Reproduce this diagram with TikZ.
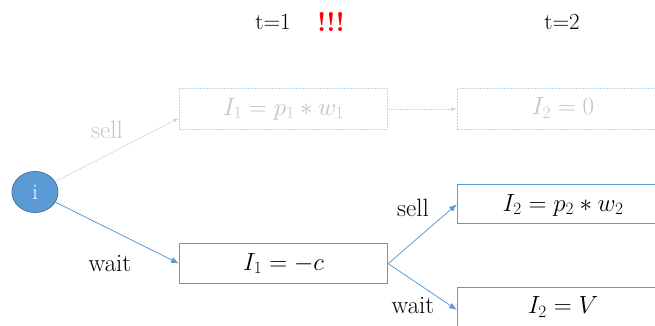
\documentclass[tikz,border=0pt]{standalone}
\usetikzlibrary{arrows.meta,shapes.geometric}
\definecolor{boxblue}{HTML}{5B9BD5}
\definecolor{circedge}{HTML}{41719C}
\definecolor{fadeblue}{HTML}{BDD7EE}
\definecolor{fadetext}{HTML}{C4C4C4}
\tikzset{
  mathtxt/.style={font=\fontsize{24}{28}\selectfont},
  statebox/.style={draw=boxblue, line width=1.2pt, minimum width=208pt, minimum height=40pt, inner sep=0pt, mathtxt},
  fadebox/.style={draw=fadeblue, dash pattern=on 2pt off 1pt, line width=1pt, minimum width=208pt, minimum height=41pt, inner sep=0pt, text=fadetext, mathtxt},
  conn/.style={draw=boxblue, line width=0.8pt, -{Latex[length=8pt,width=6pt]}},
  fadeconn/.style={draw=fadeblue, line width=0.8pt, dash pattern=on 2pt off 1pt, -{Latex[length=6pt,width=4pt]}},
  lbl/.style={font=\fontsize{25}{28}\selectfont},
  fadelbl/.style={font=\fontsize{25}{28}\selectfont, text=fadetext},
}
\begin{document}
\begin{tikzpicture}[x=1pt,y=-1pt]
\useasboundingbox (0,0) rectangle (655,325);
\clip (0,0) rectangle (655,325);
% headers
\node[font=\fontsize{23}{26}\selectfont] (t1) at (273,22) {t=1};
\node[font=\fontsize{27}{30}\selectfont\bfseries, text=red] (excl) at (331,22) {!!!};
\node[font=\fontsize{23}{26}\selectfont] (t2) at (562,22) {t=2};
% root
\node[draw=circedge, fill=boxblue, line width=0.8pt, ellipse, minimum width=46pt, minimum height=41pt, inner sep=0pt, text=white, font=\fontsize{22}{24}\selectfont] (root) at (35,192) {i};
% faded upper branch
\node[fadebox, anchor=north west] (s1) at (179,88) {$I_1 = p_1 * w_1$};
\node[fadebox, anchor=north west, minimum width=230pt] (s2) at (457,88) {};
\node[text=fadetext, mathtxt] (s2t) at (563,108) {$I_2 = 0$};
\draw[fadeconn] (root) -- (s1.west |- 0,118);
\draw[fadeconn] (s1.east) -- (s2.west);
\node[fadelbl] (sell1) at (107,130) {sell};
% lower branch
\node[statebox, anchor=north west] (w1) at (179,243) {$I_1 = -c$};
\draw[conn] (root) -- (w1.west);
\node[lbl] (wait1) at (110,264) {wait};
\node[statebox, anchor=north west, minimum width=230pt, minimum height=39pt] (ws) at (457,184) {};
\node[mathtxt] (wst) at (563,205) {$I_2 = p_2 * w_2$};
\node[statebox, anchor=north west, minimum width=230pt, minimum height=45pt] (ww) at (457,287) {};
\node[mathtxt] (wwt) at (563,307) {$I_2 = V$};
\draw[conn] (w1.east) -- (ws.west);
\draw[conn] (w1.east) -- (ww.west |- 0,310);
\node[lbl] (sell2) at (413,208) {sell};
\node[lbl] (wait2) at (413,306) {wait};
\end{tikzpicture}
\end{document}
